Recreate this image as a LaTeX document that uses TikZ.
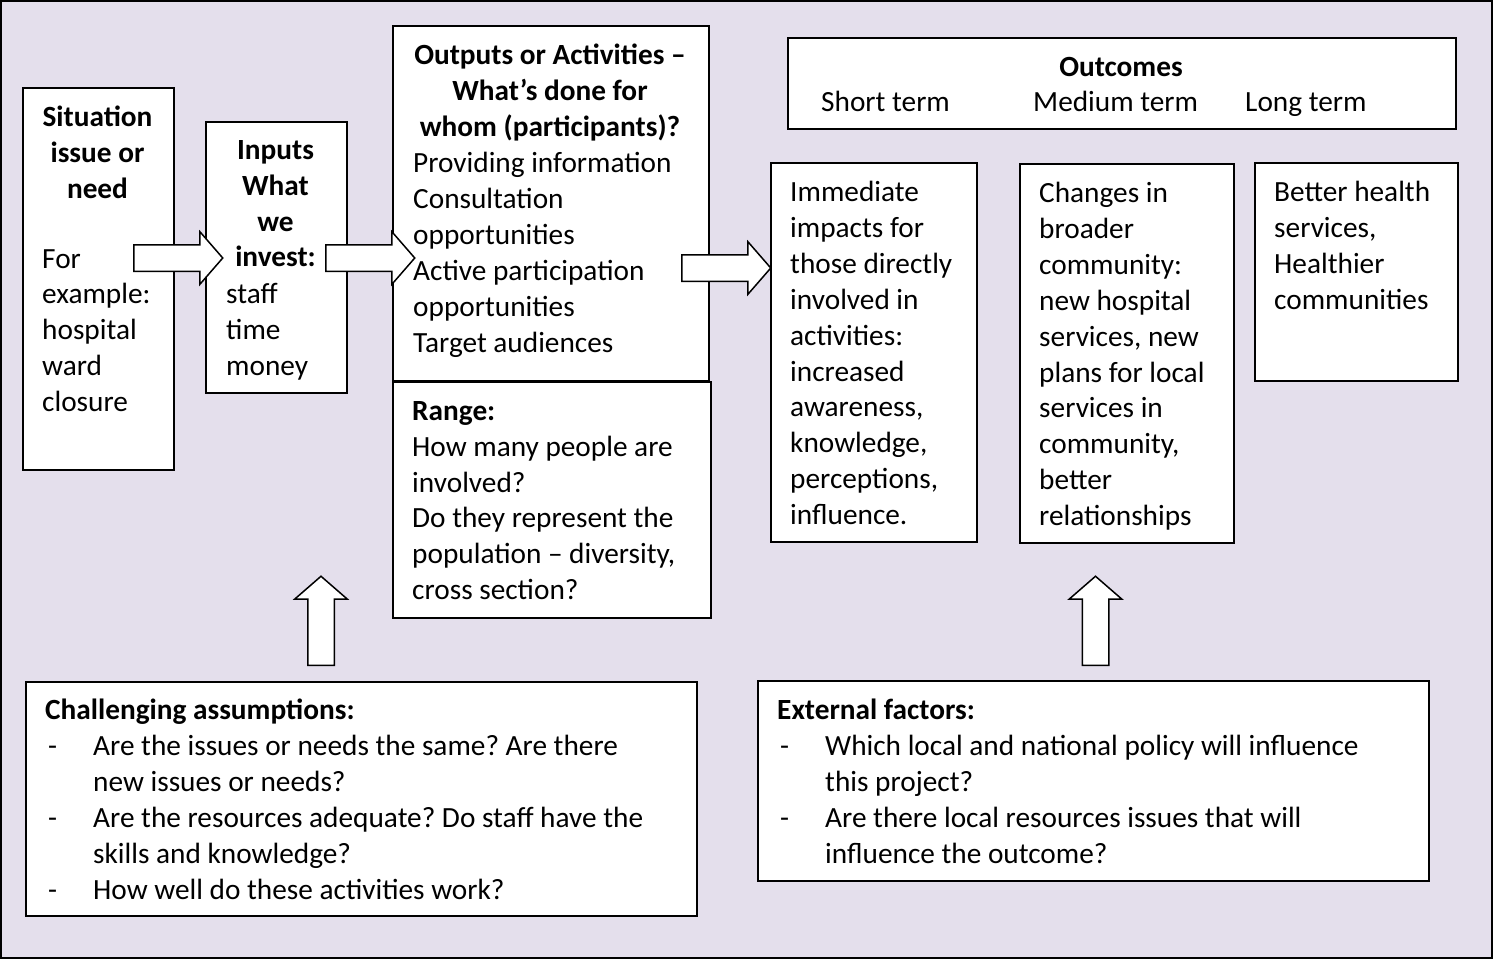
\documentclass[tikz,border=0pt]{standalone}
\usepackage{fontspec}
\setmainfont{Carlito}
\usepackage{tikz}
\usetikzlibrary{shapes.arrows}
\definecolor{lavender}{HTML}{E4DFEC}
\newcommand{\dashlead}{\hspace*{3pt}\makebox[45pt][l]{-}}
\newcommand{\dashcont}{\hspace*{48pt}}
\frenchspacing

\begin{document}
\begin{tikzpicture}[x=1pt, y=-1pt,
  every node/.style={font=\fontsize{29.3}{35.9}\selectfont, inner sep=0pt},
  box/.style={draw, line width=2pt, fill=white, anchor=north west},
  txt/.style={anchor=north west, align=left, yshift=19pt, execute at begin node=\strut},
  head/.style={anchor=north, align=center, yshift=19pt, execute at begin node=\strut,
    font=\fontsize{29.3}{35.9}\selectfont\bfseries},
  blockarrow/.style={draw, line width=1.5pt, fill=white, single arrow, inner sep=12.5pt,
    single arrow head extend=13pt, single arrow tip angle=98, minimum height=89pt, anchor=tail}]
\useasboundingbox (0,0) rectangle (1493,959);
\fill[lavender, draw=black, line width=2pt] (1,1) rectangle (1492,958);

% boxes
\node[box, minimum width=151pt, minimum height=382pt] (sit) at (22,87) {};
\node[box, minimum width=141pt, minimum height=271pt] (inp) at (205,121) {};
\node[box, minimum width=316pt, minimum height=355pt] (outp) at (392,25) {};
\node[box, minimum width=318pt, minimum height=236pt] (rng) at (392,381) {};
\node[box, minimum width=668pt, minimum height=91pt] (outc) at (787,37) {};
\node[box, minimum width=206pt, minimum height=379pt] (shrt) at (770,162) {};
\node[box, minimum width=214pt, minimum height=379pt] (med) at (1019,163) {};
\node[box, minimum width=203pt, minimum height=218pt] (lng) at (1254,162) {};
\node[box, minimum width=671pt, minimum height=234pt] (chal) at (25,681) {};
\node[box, minimum width=671pt, minimum height=200pt] (ext) at (757,680) {};

% texts
\node[head] (sitHead) at (97.5,125) {Situation\\issue or\\need};
\node[txt] (sitTxt) at (42,268) {For\\example:\\hospital\\ward\\closure};
\node[head] (inpHead) at (275.5,159) {Inputs\\What\\we\\invest:};
\node[txt] (inpTxt) at (226,302) {staff\\time\\money};
\node[head] (outpHead) at (550,63) {Outputs or Activities –\\What’s done for\\whom (participants)?};
\node[txt] (outpTxt) at (413,171) {Providing information\\Consultation\\opportunities\\Active participation\\opportunities\\Target audiences};
\node[txt] (rngTxt) at (412,420) {\textbf{Range:}\\How many people are\\involved?\\Do they represent the\\population – diversity,\\cross section?};
\node[head] (outcHead) at (1121,70) {Outcomes};
\node[txt] (shrtHead) at (821,105) {Short term};
\node[txt] (medHead) at (1033,105) {Medium term};
\node[txt] (lngHead) at (1245,105) {Long term};
\node[txt] (shrtTxt) at (790,200) {Immediate\\impacts for\\those directly\\involved in\\activities:\\increased\\awareness,\\knowledge,\\perceptions,\\influence.};
\node[txt] (medTxt) at (1039,201) {Changes in\\broader\\community:\\new hospital\\services, new\\plans for local\\services in\\community,\\better\\relationships};
\node[txt] (lngTxt) at (1274,200) {Better health\\services,\\Healthier\\communities};
\node[txt] (chalTxt) at (45,718) {\textbf{Challenging assumptions:}\\
  \dashlead Are the issues or needs the same? Are there\\
  \dashcont new issues or needs?\\
  \dashlead Are the resources adequate? Do staff have the\\
  \dashcont skills and knowledge?\\
  \dashlead How well do these activities work?};
\node[txt] (extTxt) at (777,718) {\textbf{External factors:}\\
  \dashlead Which local and national policy will influence\\
  \dashcont this project?\\
  \dashlead Are there local resources issues that will\\
  \dashcont influence the outcome?};

% block arrows
\node[blockarrow] (a1) at (133,258) {};
\node[blockarrow] (a2) at (325,258) {};
\node[blockarrow] (a3) at (681,268) {};
\node[blockarrow, rotate=90] (u1) at (321,666) {};
\node[blockarrow, rotate=90] (u2) at (1095.5,666) {};
\end{tikzpicture}
\end{document}
